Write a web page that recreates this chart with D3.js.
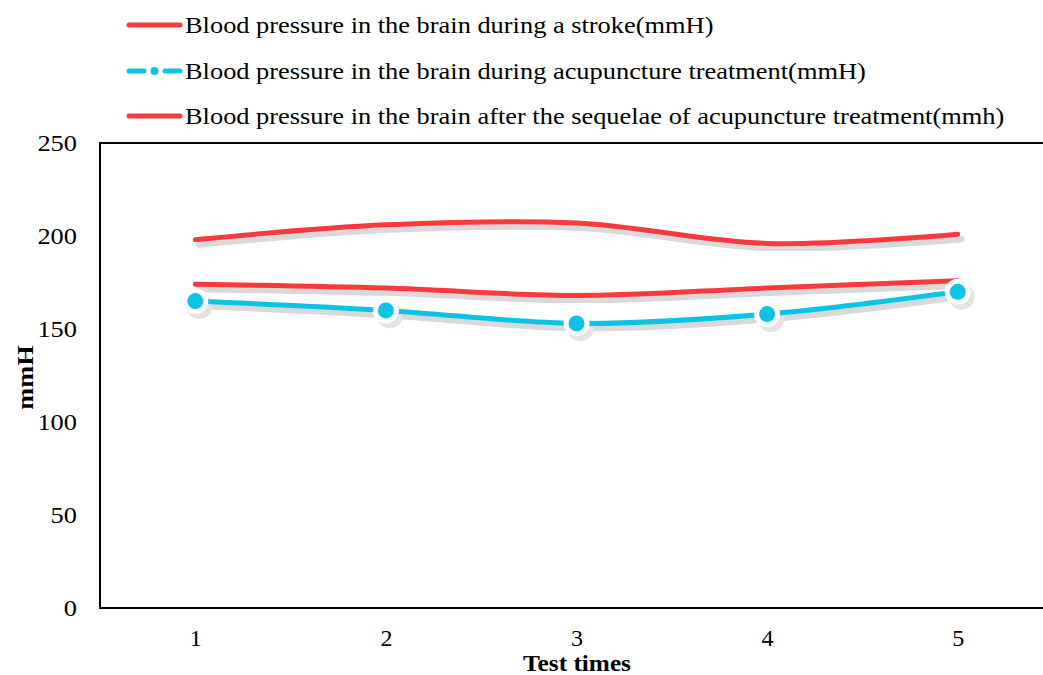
<!DOCTYPE html>
<html>
<head>
<meta charset="utf-8">
<script src="https://cdn.jsdelivr.net/npm/d3@7"></script>
<style>
  body { margin: 0; background: #fff; }
  text { font-family: "Liberation Serif", "Times New Roman", serif; fill: #000; }
</style>
</head>
<body>
<div id="chart"></div>
<script>
// data
const testTimes = [1, 2, 3, 4, 5]
const strokePressure = [198, 206, 207, 196, 201]
const acupuncturePressure = [165, 160, 153, 158, 170]
const sequelaePressure = [174, 172, 168, 172, 176]
const yTicks = [0, 50, 100, 150, 200, 250]
const seriesNames = [
  'Blood pressure in the brain during a stroke(mmH)',
  'Blood pressure in the brain during acupuncture treatment(mmH)',
  'Blood pressure in the brain after the sequelae of acupuncture treatment(mmh)'
]

const red = '#f8393d'
const cyan = '#0bc4e3'
const shadow = '#d9d9d9'
const stretch = 'scale(1.1,1)' // the source text is a little wide

const width = 1043
const height = 675
const margin = {top: 143, right: -10, bottom: 67, left: 100}

const svg = d3.select('#chart').append('svg')
  .attr('width', width)
  .attr('height', height)

const defs = svg.append('defs')
defs.append('filter').attr('id', 'soft')
  .append('feGaussianBlur').attr('stdDeviation', 0.5)

const x = d3.scalePoint()
  .domain(testTimes)
  .range([margin.left, width - margin.right])
  .padding(0.5)
const y = d3.scaleLinear()
  .domain([0, 250])
  .range([height - margin.bottom, margin.top])

// frame: left, top, bottom (right edge runs off the page)
svg.append('path')
  .attr('d', `M${width + 20},${y(250)}H${margin.left}V${y(0)}H${width + 20}`)
  .attr('stroke', '#000').attr('stroke-width', 2).attr('fill', 'none')

// y axis labels
const yAxis = svg.append('g')
  .attr('transform', `translate(${margin.left - 23},0)`)
  .call(d3.axisLeft(y).tickValues(yTicks).tickSize(0).tickPadding(0))
yAxis.select('.domain').remove()
yAxis.selectAll('text')
  .style('font-family', '"Liberation Serif", serif')
  .style('font-size', '24px')
  .attr('fill', '#000')
  .attr('transform', stretch)

// x axis labels
const xAxis = svg.append('g')
  .attr('transform', `translate(0,${y(0) + 21})`)
  .call(d3.axisBottom(x).tickSize(0).tickPadding(0))
xAxis.select('.domain').remove()
xAxis.selectAll('text')
  .style('font-family', '"Liberation Serif", serif')
  .style('font-size', '24px')
  .attr('fill', '#000')

svg.append('text')
  .attr('transform', `translate(577,671) ${stretch}`)
  .attr('text-anchor', 'middle')
  .style('font-size', '23px')
  .style('font-weight', 'bold')
  .text('Test times')

svg.append('text')
  .attr('transform', `translate(33,${(y(0) + y(250)) / 2 + 2}) rotate(-90) ${stretch}`)
  .attr('text-anchor', 'middle')
  .style('font-size', '24px')
  .style('font-weight', 'bold')
  .text('mmH')

const line = d3.line()
  .x((d, i) => x(testTimes[i]))
  .y(d => y(d))
  .curve(d3.curveCatmullRom.alpha(0.5))

const series = [
  {values: strokePressure, color: red, markers: false},
  {values: sequelaePressure, color: red, markers: false},
  {values: acupuncturePressure, color: cyan, markers: true}
]

const plot = svg.append('g')

// shadows first
series.forEach(s => {
  plot.append('path')
    .attr('d', line(s.values))
    .attr('transform', 'translate(4,5)')
    .attr('fill', 'none')
    .attr('stroke', shadow)
    .attr('stroke-width', 6)
    .attr('stroke-linecap', 'round')
    .attr('filter', 'url(#soft)')
})

series.forEach(s => {
  if (s.markers) {
    plot.selectAll(null).data(s.values).enter().append('circle')
      .attr('cx', (d, i) => x(testTimes[i]) + 4)
      .attr('cy', d => y(d) + 5)
      .attr('r', 13)
      .attr('fill', '#e4e4e4')
      .attr('filter', 'url(#soft)')
  }
})

series.forEach(s => {
  plot.append('path')
    .attr('d', line(s.values))
    .attr('fill', 'none')
    .attr('stroke', s.color)
    .attr('stroke-width', 5)
    .attr('stroke-linecap', 'round')
  if (s.markers) {
    plot.selectAll(null).data(s.values).enter().append('circle')
      .attr('cx', (d, i) => x(testTimes[i]))
      .attr('cy', d => y(d))
      .attr('r', 10.5)
      .attr('fill', s.color)
      .attr('stroke', '#fff')
      .attr('stroke-width', 5)
  }
})

// legend
const legend = svg.append('g')
const legendY = [25, 71, 116]
seriesNames.forEach((name, i) => {
  const g = legend.append('g').attr('transform', `translate(0,${legendY[i]})`)
  if (i === 1) {
    g.append('line').attr('x1', 129).attr('x2', 144).attr('stroke', cyan)
      .attr('stroke-width', 5).attr('stroke-linecap', 'round')
    g.append('circle').attr('cx', 154.5).attr('r', 4).attr('fill', cyan)
    g.append('line').attr('x1', 165).attr('x2', 180).attr('stroke', cyan)
      .attr('stroke-width', 5).attr('stroke-linecap', 'round')
  } else {
    g.append('line').attr('x1', 129).attr('x2', 180).attr('stroke', red)
      .attr('stroke-width', 5).attr('stroke-linecap', 'round')
  }
  g.append('text')
    .attr('transform', `translate(185,0) ${stretch}`)
    .attr('dy', '0.34em')
    .style('font-size', '24px')
    .text(name)
})
</script>
</body>
</html>
